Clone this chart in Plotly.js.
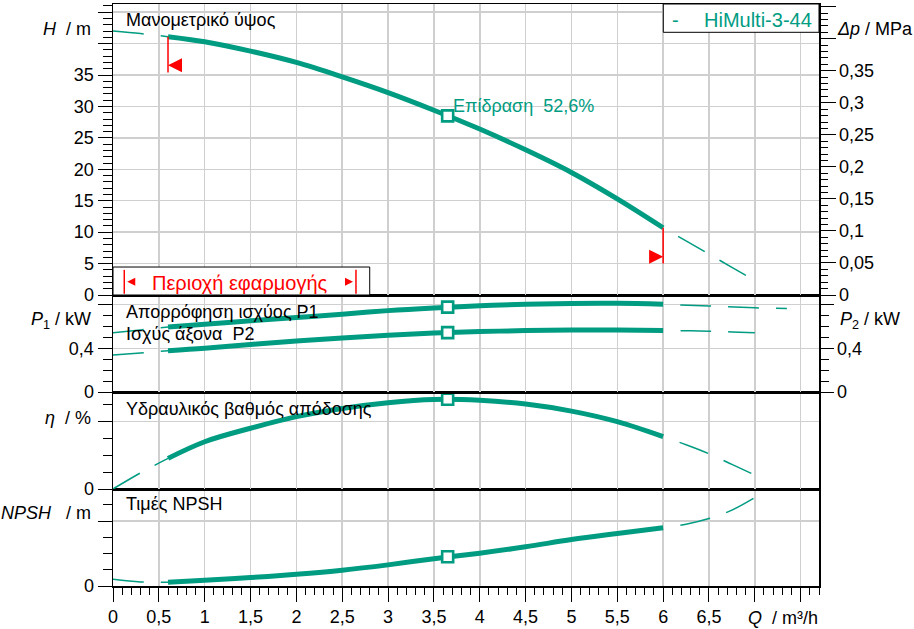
<!DOCTYPE html>
<html><head><meta charset="utf-8">
<script src="https://cdn.plot.ly/plotly-3.0.1.min.js"></script>
<style>html,body{margin:0;padding:0;background:#fff}</style>
</head><body><div id="chart" style="width:914px;height:629px"></div>
<script>
// ---------- data ----------
const qLeft    = [0, 0.3, 0.6];
const qSolid   = [0.6, 1, 1.5, 2, 2.5, 3, 3.5, 4, 4.5, 5, 5.5, 6];
const qRight   = [6, 6.25, 6.5, 6.75, 7];
const qP1Right = [6, 6.5, 7, 7.35];
const qBep     = [3.65];

const hLeft  = [42.0, 41.6, 41.1];
const hSolid = [41.1, 40.3, 38.8, 37.0, 34.7, 32.2, 29.4, 26.4, 23.1, 19.5, 15.3, 10.7];
const hRight = [10.7, 8.6, 6.5, 4.4, 2.3];
const hBep   = [28.5];

const p1Left  = [0.542, 0.568, 0.594];
const p1Solid = [0.594, 0.621, 0.652, 0.682, 0.712, 0.745, 0.770, 0.790, 0.803, 0.811, 0.812, 0.803];
const p1Right = [0.803, 0.787, 0.771, 0.764];
const p1Bep   = [0.777];

const p2Left  = [0.339, 0.358, 0.378];
const p2Solid = [0.378, 0.400, 0.435, 0.466, 0.495, 0.520, 0.540, 0.553, 0.562, 0.567, 0.568, 0.564];
const p2Right = [0.564, 0.561, 0.557, 0.550, 0.542];
const p2Bep   = [0.544];

const etaLeft  = [0, 9.6, 18.2];
const etaSolid = [18.2, 28.1, 36.1, 43.0, 47.9, 51.3, 53.2, 52.7, 50.5, 46.3, 40.0, 31.1];
const etaRight = [31.1, 26.3, 21.0, 14.6, 8.3];
const etaBep   = [53.3];

const npshLeft  = [0.41, 0.25, 0.23];
const npshSolid = [0.23, 0.35, 0.52, 0.72, 0.97, 1.30, 1.68, 2.02, 2.41, 2.86, 3.23, 3.58];
const npshRight = [3.58, 3.80, 4.15, 4.67, 5.44];
const npshBep   = [1.80];

// operating range limits (Q) and their marker heights (H)
const qLimits      = [0.6, 6];
const hLimitTop    = [41.1, 10.7];
const hLimitBottom = [35.4, 5.0];
const hLimitArrow  = [36.55, 6.1];

const rhoG = 0.00981; // MPa per m of head

// tick labels
const qTickVals   = [0,0.5,1,1.5,2,2.5,3,3.5,4,4.5,5,5.5,6,6.5,7,7.5];
const qTickText   = ['0','0,5','1','1,5','2','2,5','3','3,5','4','4,5','5','5,5','6','6,5','',''];
const hTickVals   = [0,5,10,15,20,25,30,35,40,45];
const hTickText   = ['0','5','10','15','20','25','30','35','',''];
const dpTickVals  = [0,0.05,0.1,0.15,0.2,0.25,0.3,0.35,0.4,0.45];
const dpTickText  = ['0','0,05','0,1','0,15','0,2','0,25','0,3','0,35','',''];
const pTickVals   = [0,0.4,0.8];
const pTickText   = ['0','0,4',''];
const etaTickVals = [0,40];
const etaTickText = ['0',''];
const npshTickVals= [0,4];
const npshTickText= ['0',''];

// ---------- styling ----------
const FONT = 'Liberation Sans, Arial, sans-serif';
const TEAL = '#009c82';
const RED = '#ff0000';
const GRID = '#cfcfcf';
const dashL = '31px,17px';
const dashR = '0px,17px,31px,0px';

function series(xa, ya, ql, yl, qs, ys, qr, yr, yb) {
  return [
    {x: ql, y: yl, xaxis: xa, yaxis: ya, mode: 'lines', hoverinfo: 'skip',
     line: {color: TEAL, width: 1.5, dash: dashL, shape: 'spline'}},
    {x: qr, y: yr, xaxis: xa, yaxis: ya, mode: 'lines', hoverinfo: 'skip',
     line: {color: TEAL, width: 1.5, dash: dashR, shape: 'spline'}},
    {x: qs, y: ys, xaxis: xa, yaxis: ya, mode: 'lines', hoverinfo: 'skip',
     line: {color: TEAL, width: 5, shape: 'spline'}},
    {x: qBep, y: yb, xaxis: xa, yaxis: ya, mode: 'markers', hoverinfo: 'skip',
     marker: {symbol: 'square', size: 11, color: '#fff', line: {color: TEAL, width: 2.6}}}
  ];
}

const traces = [].concat(
  series('x4', 'y',  qLeft, hLeft,   qSolid, hSolid,   qRight,   hRight,   hBep),
  series('x3', 'y2', qLeft, p1Left,  qSolid, p1Solid,  qP1Right, p1Right,  p1Bep),
  series('x3', 'y2', qLeft, p2Left,  qSolid, p2Solid,  qRight,   p2Right,  p2Bep),
  series('x2', 'y3', qLeft, etaLeft, qSolid, etaSolid, qRight,   etaRight, etaBep),
  series('x',  'y4', qLeft, npshLeft,qSolid, npshSolid,qRight,   npshRight,npshBep),
  [
    {x: qSolid, y: hSolid.map(v => v * rhoG), xaxis: 'x4', yaxis: 'y5', mode: 'lines',
     hoverinfo: 'skip', line: {width: 0, color: 'rgba(0,0,0,0)'}},
    {x: qSolid, y: p2Solid, xaxis: 'x3', yaxis: 'y6', mode: 'lines',
     hoverinfo: 'skip', line: {width: 0, color: 'rgba(0,0,0,0)'}}
  ]
);

const tickFont = {family: FONT, size: 18, color: '#000'};
const Q_MAX = 7.7, H_MAX = 46.3, P_MAX = 0.888, ETA_MAX = 57.65, NPSH_MAX = 5.97;

function xAxis(anchor, bottom) {
  const a = {anchor: anchor, domain: [0, 1], range: [0, Q_MAX], tickmode: 'array',
    tickvals: qTickVals, showgrid: true, gridcolor: GRID, gridwidth: 1.5, zeroline: false,
    showline: true, mirror: true, linecolor: '#000', linewidth: 1.5, fixedrange: true};
  if (bottom) {
    Object.assign(a, {ticktext: qTickText, ticks: 'outside', ticklen: 14, tickwidth: 1,
      tickcolor: '#000', tickfont: tickFont,
      minor: {tickmode: 'linear', tick0: 0, dtick: 0.1, ticks: 'outside', ticklen: 7,
              tickwidth: 1, tickcolor: '#000', showgrid: false}});
  } else {
    Object.assign(a, {matches: 'x', showticklabels: false, ticks: ''});
  }
  return a;
}
function yAxis(anchor, domain, range, vals, text, minorDtick, grid, side, overlay, majLen, minLen) {
  const a = {anchor: anchor, range: range, tickmode: 'array', tickvals: vals, ticktext: text,
    ticks: 'outside', ticklen: majLen, tickwidth: 1, tickcolor: '#000', tickfont: tickFont,
    minor: {tickmode: 'linear', tick0: 0, dtick: minorDtick, ticks: 'outside', ticklen: minLen,
            tickwidth: 1, tickcolor: '#000', showgrid: false},
    showgrid: grid, gridcolor: GRID, gridwidth: 1.5, zeroline: false,
    showline: true, linecolor: '#000', linewidth: 1.5, fixedrange: true};
  if (overlay) { a.overlaying = overlay; a.side = side; }
  else { a.domain = domain; a.mirror = true; a.side = 'left'; }
  return a;
}

// paper coordinate helpers for annotation placement (plot area 113..819 x 4..586)
const px = v => (v - 113) / 706;
const py = v => (586 - v) / 582;

function ann(text, x, y, xanchor, opts) {
  return Object.assign({text: text, xref: 'paper', yref: 'paper', x: x, y: y,
    xanchor: xanchor, yanchor: 'middle', showarrow: false,
    font: {family: FONT, size: 18, color: '#000'}}, opts || {});
}

const annotations = [
  ann('Μανομετρικό ύψος', px(124), py(20), 'left'),
  ann('Απορρόφηση ισχύος P1', px(124), py(312), 'left'),
  ann('Ισχύς άξονα\u00a0 P2', px(124), py(334), 'left'),
  ann('Υδραυλικός βαθμός απόδοσης', px(124), py(409), 'left'),
  ann('Τιμές NPSH', px(124), py(504), 'left'),
  ann('Επίδραση\u00a0 52,6%', px(451), py(106), 'left', {font: {family: FONT, size: 18, color: TEAL}}),
  ann('Περιοχή εφαρμογής', px(240), py(283), 'center', {font: {family: FONT, size: 20, color: RED}}),
  ann('-', px(670), py(20), 'left', {font: {family: FONT, size: 20, color: TEAL}}),
  ann('HiMulti-3-44', px(814), py(20), 'right', {font: {family: FONT, size: 20, color: TEAL}}),
  ann('<i>H</i>\u00a0 / m', px(93), py(29), 'right'),
  ann('<i>P</i><sub>1</sub> / kW', px(93), py(320), 'right'),
  ann('<i>η</i>\u00a0 / %', px(93), py(418), 'right'),
  ann('<i>NPSH</i>\u00a0\u00a0 / m', px(93), py(513), 'right'),
  ann('<i>Δp</i> / MPa', px(835), py(29), 'left'),
  ann('<i>P</i><sub>2</sub> / kW', px(838), py(320), 'left'),
  ann('<i>Q</i>\u00a0 / m³/h', px(820), py(618), 'right')
];

const shapes = [
  // operating range box
  {type: 'rect', xref: 'x4', yref: 'y', x0: 0, x1: 2.8, y0: 0, y1: 4.45,
   line: {color: '#000', width: 1}, fillcolor: '#fff', layer: 'above'},
  {type: 'line', xref: 'x4', yref: 'y', x0: 0.123, x1: 0.123, y0: 0.2, y1: 4.0,
   line: {color: RED, width: 1.5}, layer: 'above'},
  {type: 'line', xref: 'x4', yref: 'y', x0: 2.65, x1: 2.65, y0: 0.2, y1: 4.0,
   line: {color: RED, width: 1.5}, layer: 'above'},
  {type: 'path', xref: 'x4', yref: 'y', xsizemode: 'pixel', ysizemode: 'pixel',
   xanchor: 0.123, yanchor: 2.1, path: 'M3,0 L11,4 L11,-4 Z',
   fillcolor: RED, line: {width: 0}, layer: 'above'},
  {type: 'path', xref: 'x4', yref: 'y', xsizemode: 'pixel', ysizemode: 'pixel',
   xanchor: 2.65, yanchor: 2.1, path: 'M-3,0 L-11,4 L-11,-4 Z',
   fillcolor: RED, line: {width: 0}, layer: 'above'},
  // legend box
  {type: 'rect', xref: 'paper', yref: 'paper', x0: px(663.3), x1: 1, y0: py(32.3), y1: 1,
   line: {color: '#000', width: 1}, fillcolor: '#fff', layer: 'above'}
];
// operating limit markers
qLimits.forEach((q, i) => {
  shapes.push({type: 'line', xref: 'x4', yref: 'y', x0: q, x1: q,
    y0: hLimitBottom[i], y1: hLimitTop[i], line: {color: RED, width: 1.5}, layer: 'above'});
  shapes.push({type: 'path', xref: 'x4', yref: 'y', xsizemode: 'pixel', ysizemode: 'pixel',
    xanchor: q, yanchor: hLimitArrow[i],
    path: i === 0 ? 'M0,0 L14,7 L14,-7 Z' : 'M0,0 L-14,7 L-14,-7 Z',
    fillcolor: RED, line: {width: 0}, layer: 'above'});
});

const layout = {
  width: 914, height: 629,
  margin: {l: 113, r: 95, t: 4, b: 43, pad: 0},
  paper_bgcolor: '#fff', plot_bgcolor: '#fff',
  showlegend: false, separators: ', ',
  font: {family: FONT, size: 18, color: '#000'},
  xaxis:  xAxis('y4', true),
  xaxis2: xAxis('y3', false),
  xaxis3: xAxis('y2', false),
  xaxis4: xAxis('y', false),
  yaxis:  yAxis('x4', [0.5, 1], [0, H_MAX], hTickVals, hTickText, 1, true, null, null, 14, 9),
  yaxis2: yAxis('x3', [1/3, 0.5], [0, P_MAX], pTickVals, pTickText, 0.1, true, null, null, 14, 9),
  yaxis3: yAxis('x2', [1/6, 1/3], [0, ETA_MAX], etaTickVals, etaTickText, 10, true, null, null, 14, 9),
  yaxis4: yAxis('x', [0, 1/6], [0, NPSH_MAX], npshTickVals, npshTickText, 1, true, null, null, 14, 9),
  yaxis5: yAxis('x4', null, [0, H_MAX * rhoG], dpTickVals, dpTickText, 0.01, false, 'right', 'y', 15, 7),
  yaxis6: yAxis('x3', null, [0, P_MAX], pTickVals, pTickText, 0.1, false, 'right', 'y2', 13, 8),
  annotations: annotations,
  shapes: shapes
};

Plotly.newPlot('chart', traces, layout, {staticPlot: true, displayModeBar: false});
</script></body></html>
